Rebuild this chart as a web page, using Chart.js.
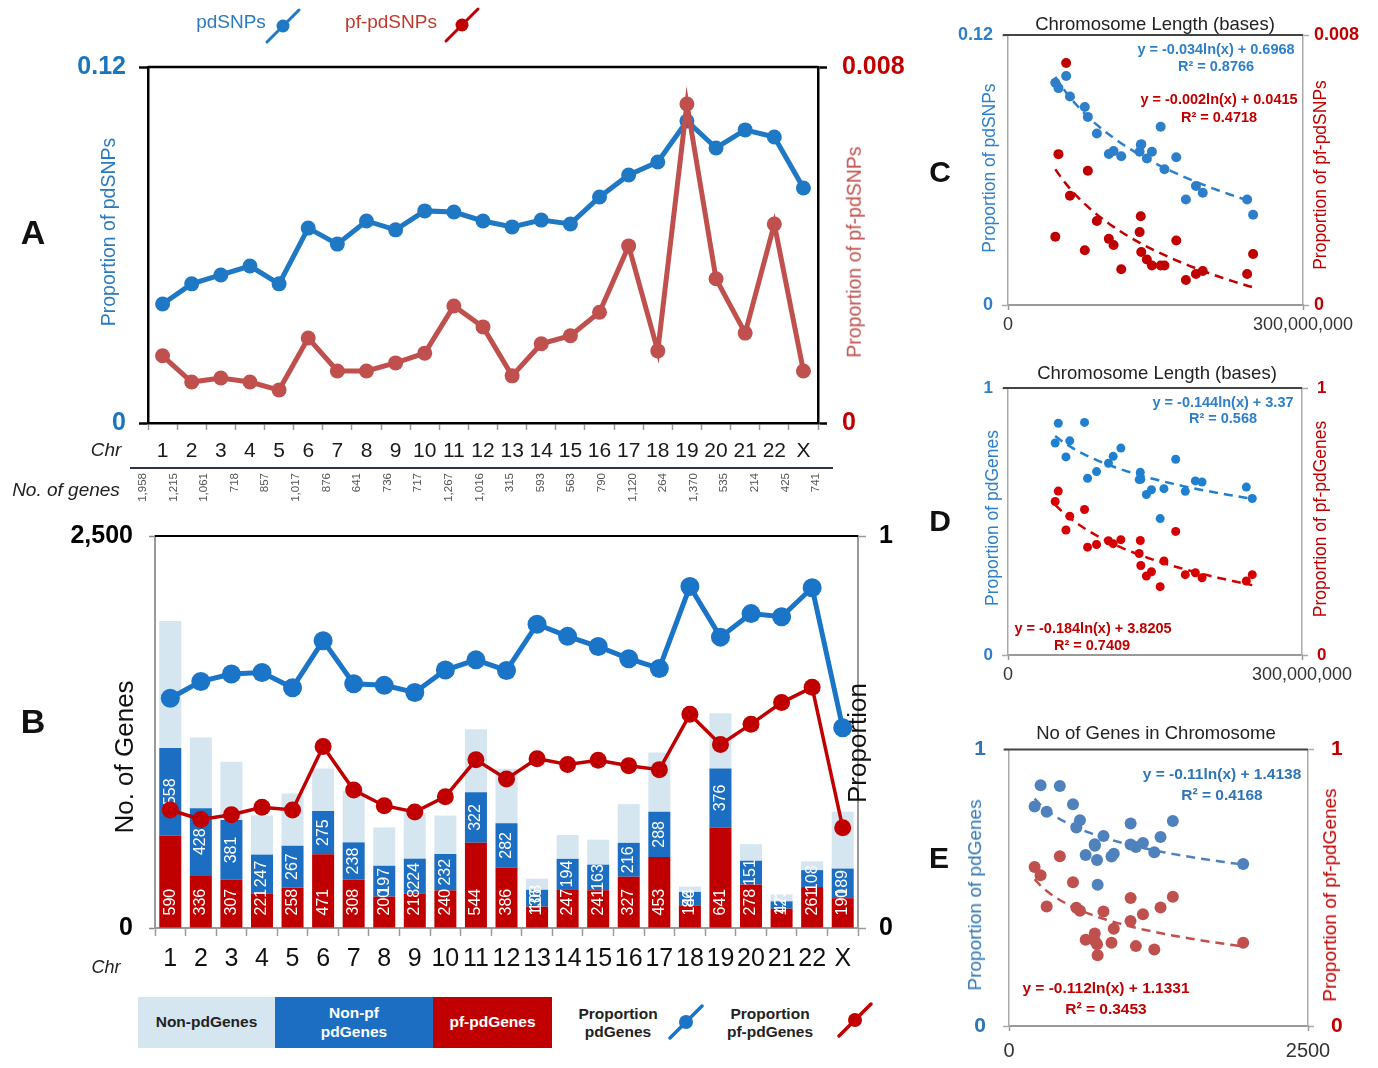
<!DOCTYPE html>
<html>
<head>
<meta charset="utf-8">
<title>pdSNPs and pdGenes across human chromosomes</title>
<script src="https://cdn.jsdelivr.net/npm/chart.js@4.4.1/dist/chart.umd.min.js"></script>
<style>
html, body { margin: 0; padding: 0; background: #fff; }
#fig { position: relative; width: 1378px; height: 1068px; overflow: hidden;
       font-family: "Liberation Sans", Arial, Helvetica, sans-serif; }
#fig canvas { position: absolute; }
.t { position: absolute; white-space: nowrap; transform: translate(-50%, -50%);
     line-height: 1.15; text-align: center; }
.r { transform: translate(-50%, -50%) rotate(-90deg); }
.gc { position: absolute; writing-mode: vertical-rl; transform: rotate(180deg);
      font-size: 11.5px; color: #555; width: 14px; line-height: 14px; }
.sw { position: absolute; display: flex; align-items: center; justify-content: center;
      text-align: center; font-weight: bold; font-size: 15.5px; line-height: 1.2; }
svg.ic { position: absolute; overflow: visible; }
</style>
</head>
<body>
<div id="fig">
  <canvas id="cA" width="920" height="520" style="left:0;top:0;width:920px;height:520px"></canvas>
  <canvas id="cB" width="900" height="485" style="left:0;top:505px;width:900px;height:485px"></canvas>
  <canvas id="cC" width="420" height="340" style="left:950px;top:0;width:420px;height:340px"></canvas>
  <canvas id="cD" width="420" height="330" style="left:950px;top:360px;width:420px;height:330px"></canvas>
  <canvas id="cE" width="420" height="348" style="left:950px;top:720px;width:420px;height:348px"></canvas>
</div>
<script>
// ---- data per chromosome ----
const chromosomes = ['1','2','3','4','5','6','7','8','9','10','11','12','13','14','15','16','17','18','19','20','21','22','X'];
const geneCounts   = [1958,1215,1061,718,857,1017,876,641,736,717,1267,1016,315,593,563,790,1120,264,1370,535,214,425,741];
const pfPdGenes    = [590,336,307,221,258,471,308,200,218,240,544,386,136,247,241,327,453,144,641,278,123,261,190];
const nonPfPdGenes = [558,428,381,247,267,275,238,197,224,232,322,282,108,194,163,216,288,86,376,151,47,108,189];
const nonPdGenes   = [810,451,373,250,332,271,330,244,294,245,401,348,71,152,159,247,379,34,353,106,44,56,362];
const pdGeneProp   = [0.586,0.629,0.648,0.652,0.613,0.733,0.623,0.619,0.601,0.658,0.684,0.657,0.775,0.744,0.718,0.687,0.662,0.871,0.742,0.802,0.794,0.868,0.511];
const pfPdGeneProp = [0.301,0.277,0.289,0.308,0.301,0.463,0.352,0.312,0.296,0.335,0.429,0.380,0.432,0.417,0.428,0.414,0.404,0.545,0.468,0.520,0.575,0.614,0.256];
const pdSnpProp    = [0.0401,0.0469,0.0499,0.0529,0.0469,0.0657,0.0603,0.0681,0.0651,0.0715,0.0711,0.0681,0.0661,0.0684,0.0671,0.0762,0.0836,0.0880,0.1018,0.0927,0.0988,0.0964,0.0792];
const pfPdSnpProp  = [0.00151,0.00092,0.00101,0.00092,0.00074,0.00191,0.00117,0.00117,0.00135,0.00157,0.00263,0.00216,0.00106,0.00178,0.00196,0.00249,0.00398,0.00162,0.00717,0.00324,0.00202,0.00447,0.00117];
const chrLengths   = [249250621,243199373,198022430,191154276,180915260,171115067,159138663,146364022,141213431,135534747,135006516,133851895,115169878,107349540,102531392,90354753,81195210,78077248,59128983,63025520,48129895,51304566,155270560];

// printed trendline equations
const eqC = ['y = -0.034ln(x) + 0.6968', 'R² = 0.8766', 'y = -0.002ln(x) + 0.0415', 'R² = 0.4718'];
const eqD = ['y = -0.144ln(x) + 3.37', 'R² = 0.568', 'y = -0.184ln(x) + 3.8205', 'R² = 0.7409'];
const eqE = ['y = -0.11ln(x) + 1.4138', 'R² = 0.4168', 'y = -0.112ln(x) + 1.1331', 'R² = 0.3453'];

const FONT = '"Liberation Sans", Arial, Helvetica, sans-serif';
Chart.defaults.font.family = FONT;

const fig = document.getElementById('fig');

// only the two end values are labelled on every axis
const endTicks = s => { s.ticks = [{ value: s.min }, { value: s.max }]; };

// dark rule along the top of the plot area
const topRule = {
  id: 'topRule',
  afterDraw(chart, args, o) {
    const { ctx, chartArea: a } = chart;
    ctx.save();
    ctx.strokeStyle = o.color; ctx.lineWidth = o.width;
    ctx.beginPath();
    ctx.moveTo(a.left - (o.extend || 0), a.top);
    ctx.lineTo(a.right + (o.extendR || 0), a.top);
    ctx.stroke();
    ctx.restore();
  }
};

// ---------- A: proportion of pdSNPs / pf-pdSNPs ----------
new Chart(document.getElementById('cA'), {
  type: 'line',
  data: {
    labels: chromosomes,
    datasets: [
      { label: 'pf-pdSNPs', data: pfPdSnpProp, yAxisID: 'yR', borderColor: '#c0504d', backgroundColor: '#c0504d',
        borderWidth: 5, pointRadius: 7.5, pointBorderWidth: 0, tension: 0 },
      { label: 'pdSNPs', data: pdSnpProp, yAxisID: 'yL', borderColor: '#1f78c4', backgroundColor: '#1f78c4',
        borderWidth: 5, pointRadius: 7.5, pointBorderWidth: 0, tension: 0 }
    ]
  },
  options: {
    responsive: false, animation: false, events: [],
    layout: { padding: { top: 67 } },
    plugins: { legend: { display: false }, tooltip: { enabled: false }, topRule: { color: '#000', width: 2.5 } },
    scales: {
      x: {
        offset: true,
        grid: { offset: true, drawOnChartArea: false, tickLength: 7, tickColor: '#999', tickWidth: 1.5 },
        border: { color: '#000', width: 2.5 },
        ticks: { color: '#1a1a1a', font: { size: 21 }, padding: 9, autoSkip: false, maxRotation: 0 },
        afterFit(s) { s.height = 97; }
      },
      yL: {
        position: 'left', min: 0, max: 0.12, afterBuildTicks: endTicks,
        grid: { drawOnChartArea: false, tickLength: 9, tickColor: '#000', tickWidth: 2.5 },
        border: { color: '#000', width: 2.5 },
        ticks: { color: '#1b75bc', font: { size: 25, weight: 'bold' }, padding: 13, callback: v => String(v) },
        afterFit(s) { s.width = 148; }
      },
      yR: {
        position: 'right', min: 0, max: 0.008, afterBuildTicks: endTicks,
        grid: { drawOnChartArea: false, tickLength: 9, tickColor: '#000', tickWidth: 2.5 },
        border: { color: '#000', width: 2.5 },
        ticks: { color: '#c00000', font: { size: 25, weight: 'bold' }, padding: 15, callback: v => String(v) },
        afterFit(s) { s.width = 102; }
      }
    }
  },
  plugins: [topRule]
});

// ---------- B: gene counts and pdGene proportions ----------
const RED_BAR = 2, BLUE_BAR = 3;
const barLabels = {
  id: 'barLabels',
  afterDatasetDraw(chart, args) {
    if (args.index !== RED_BAR) return;   // red bars are the last bars painted
    const ctx = chart.ctx;
    const red = chart.getDatasetMeta(RED_BAR).data;
    const blue = chart.getDatasetMeta(BLUE_BAR).data;
    ctx.save();
    ctx.fillStyle = '#fff';
    ctx.font = '16px ' + FONT;
    ctx.textBaseline = 'middle';
    blue.forEach((el, i) => {
      ctx.save();
      ctx.translate(el.x, (el.y + el.base) / 2);
      ctx.rotate(-Math.PI / 2);
      ctx.textAlign = 'center';
      ctx.fillText(String(nonPfPdGenes[i]), 0, 0);
      ctx.restore();
    });
    red.forEach((el, i) => {
      ctx.save();
      ctx.translate(el.x, el.base - 12);
      ctx.rotate(-Math.PI / 2);
      ctx.textAlign = 'left';
      ctx.fillText(String(pfPdGenes[i]), 0, 0);
      ctx.restore();
    });
    ctx.restore();
  }
};

const barCommon = { yAxisID: 'yN', stack: 'genes', order: 2, categoryPercentage: 1, barPercentage: 0.72, borderWidth: 0 };
new Chart(document.getElementById('cB'), {
  type: 'bar',
  data: {
    labels: chromosomes,
    datasets: [
      { type: 'line', label: 'Proportion pf-pdGenes', data: pfPdGeneProp, yAxisID: 'yP', order: 0,
        borderColor: '#c00000', backgroundColor: '#c00000', borderWidth: 3.5, pointRadius: 8.5, pointBorderWidth: 0, tension: 0 },
      { type: 'line', label: 'Proportion pdGenes', data: pdGeneProp, yAxisID: 'yP', order: 1,
        borderColor: '#1a74c8', backgroundColor: '#1a74c8', borderWidth: 5, pointRadius: 9.5, pointBorderWidth: 0, tension: 0 },
      Object.assign({ label: 'pf-pdGenes', data: pfPdGenes, backgroundColor: '#c00000' }, barCommon),
      Object.assign({ label: 'Non-pf pdGenes', data: nonPfPdGenes, backgroundColor: '#1b6ec2' }, barCommon),
      Object.assign({ label: 'Non-pdGenes', data: nonPdGenes, backgroundColor: '#d5e6f1' }, barCommon)
    ]
  },
  options: {
    responsive: false, animation: false, events: [],
    layout: { padding: { top: 30 } },
    plugins: { legend: { display: false }, tooltip: { enabled: false }, topRule: { color: '#000', width: 2 } },
    scales: {
      x: {
        stacked: true, offset: true,
        grid: { offset: true, drawOnChartArea: false, tickLength: 8, tickColor: '#999', tickWidth: 1.5 },
        border: { color: '#999', width: 2 },
        ticks: { color: '#111', font: { size: 25 }, padding: 8, autoSkip: false, maxRotation: 0 },
        afterFit(s) { s.height = 62; }
      },
      yN: {
        position: 'left', stacked: true, min: 0, max: 2500, afterBuildTicks: endTicks,
        grid: { drawOnChartArea: false, tickLength: 6, tickColor: '#888', tickWidth: 1.5 },
        border: { color: '#999', width: 2 },
        ticks: { color: '#000', font: { size: 25, weight: 'bold' }, padding: 16, callback: v => v.toLocaleString('en-US') },
        afterFit(s) { s.width = 155; }
      },
      yP: {
        position: 'right', min: 0, max: 1, afterBuildTicks: endTicks,
        grid: { drawOnChartArea: false, tickLength: 8, tickColor: '#999', tickWidth: 1.5 },
        border: { color: '#999', width: 2 },
        ticks: { color: '#000', font: { size: 25, weight: 'bold' }, padding: 13, callback: v => String(v) },
        afterFit(s) { s.width = 42; }
      }
    }
  },
  plugins: [topRule, barLabels]
});

// ---------- C, D, E: scatter with logarithmic trendlines ----------
function logFit(xs, ys) {
  let n = xs.length, sx = 0, sy = 0, sxx = 0, sxy = 0;
  for (let i = 0; i < n; i++) {
    const lx = Math.log(xs[i]);
    sx += lx; sy += ys[i]; sxx += lx * lx; sxy += lx * ys[i];
  }
  const a = (n * sxy - sx * sy) / (n * sxx - sx * sx);
  return { a, b: (sy - a * sx) / n };
}
function trendPoints(xs, fit) {
  const lo = Math.min(...xs), hi = Math.max(...xs), pts = [];
  for (let k = 0; k <= 40; k++) {
    const x = lo + (hi - lo) * k / 40;
    pts.push({ x, y: fit.a * Math.log(x) + fit.b });
  }
  return pts;
}

function scatterPanel(id, o) {
  const pts = ys => o.xs.map((x, i) => ({ x, y: ys[i] }));
  const yAxis = (pos, max, color, pad, width) => ({
    position: pos, min: 0, max, afterBuildTicks: endTicks,
    grid: { drawOnChartArea: false, tickLength: 6, tickColor: '#aaa', tickWidth: 1.5 },
    border: { color: '#aaa', width: 1.5 },
    ticks: { color, font: { size: o.yFont, weight: 'bold' }, padding: pad, callback: v => String(v) },
    afterFit(s) { s.width = width; }
  });
  return new Chart(document.getElementById(id), {
    type: 'scatter',
    data: {
      datasets: [
        { label: 'trend pf', data: trendPoints(o.xs, logFit(o.xs, o.yR)), yAxisID: 'yR', showLine: true, pointRadius: 0,
          borderColor: o.red, borderWidth: 2.5, borderDash: [9, 6] },
        { label: 'trend pd', data: trendPoints(o.xs, logFit(o.xs, o.yB)), yAxisID: 'yL', showLine: true, pointRadius: 0,
          borderColor: o.blue, borderWidth: 2.5, borderDash: [9, 6] },
        { label: o.nameR, data: pts(o.yR), yAxisID: 'yR', backgroundColor: o.red, borderWidth: 0, pointRadius: o.r },
        { label: o.nameB, data: pts(o.yB), yAxisID: 'yL', backgroundColor: o.blue, borderWidth: 0, pointRadius: o.r }
      ]
    },
    options: {
      responsive: false, animation: false, events: [],
      layout: { padding: { top: o.padTop } },
      plugins: { legend: { display: false }, tooltip: { enabled: false }, topRule: { color: '#444', width: 2, extend: 5 } },
      scales: {
        x: {
          type: 'linear', min: 0, max: o.xMax, afterBuildTicks: endTicks,
          grid: { drawOnChartArea: false, tickLength: 5, tickColor: '#999', tickWidth: 1.5 },
          border: { color: '#999', width: 2 },
          ticks: { color: '#333', font: { size: o.xFont }, padding: o.xPad, autoSkip: false, maxRotation: 0, callback: o.xFmt },
          afterFit(s) { s.height = o.xH; }
        },
        yL: yAxis('left', o.yMaxL, o.blueText, o.padL, o.wL),
        yR: yAxis('right', o.yMaxR, o.redText, o.padR, o.wR)
      }
    },
    plugins: [topRule]
  });
}

scatterPanel('cC', {
  xs: chrLengths, yB: pdSnpProp, yR: pfPdSnpProp, nameB: 'pdSNPs', nameR: 'pf-pdSNPs',
  xMax: 300000000, xFmt: v => v.toLocaleString('en-US'), xFont: 18, xPad: 4, xH: 35,
  yMaxL: 0.12, yMaxR: 0.008, yFont: 18, padL: 9, padR: 5, wL: 58, wR: 67, padTop: 35,
  blue: '#2e7fca', red: '#c00000', blueText: '#2e7fca', redText: '#c00000', r: 5
});
scatterPanel('cD', {
  xs: chrLengths, yB: pdGeneProp, yR: pfPdGeneProp, nameB: 'pdGenes', nameR: 'pf-pdGenes',
  xMax: 300000000, xFmt: v => v.toLocaleString('en-US'), xFont: 18, xPad: 4, xH: 35,
  yMaxL: 1, yMaxR: 1, yFont: 17, padL: 9, padR: 9, wL: 58, wR: 68, padTop: 28,
  blue: '#1f80d0', red: '#d60000', blueText: '#2e7fca', redText: '#c00000', r: 4.5
});
scatterPanel('cE', {
  xs: geneCounts, yB: pdGeneProp, yR: pfPdGeneProp, nameB: 'pdGenes', nameR: 'pf-pdGenes',
  xMax: 2500, xFmt: v => String(v), xFont: 20, xPad: 8, xH: 42,
  yMaxL: 1, yMaxR: 1, yFont: 21, padL: 17, padR: 17, wL: 59, wR: 62, padTop: 28,
  blue: '#4f81bd', red: '#c0504d', blueText: '#2e75b6', redText: '#c00000', r: 6
});

// ---------- text, legends and labels ----------
function text(str, x, y, style, rotated) {
  const d = document.createElement('div');
  d.className = 't' + (rotated ? ' r' : '');
  d.innerHTML = str;
  d.style.left = x + 'px';
  d.style.top = y + 'px';
  Object.assign(d.style, style || {});
  fig.appendChild(d);
  return d;
}
function icon(x, y, color, lw, rad) {
  const ns = 'http://www.w3.org/2000/svg';
  const s = document.createElementNS(ns, 'svg');
  s.setAttribute('class', 'ic');
  s.setAttribute('width', 40); s.setAttribute('height', 40);
  s.style.left = (x - 20) + 'px'; s.style.top = (y - 20) + 'px';
  s.innerHTML = '<line x1="4" y1="36" x2="36" y2="4" stroke="' + color + '" stroke-width="' + lw + '" stroke-linecap="round"/>' +
                '<circle cx="20" cy="20" r="' + rad + '" fill="' + color + '"/>';
  fig.appendChild(s);
}

// panel letters
const letter = { fontSize: '34px', fontWeight: 'bold', color: '#111' };
text('A', 33, 233, letter);
text('B', 33, 722, letter);
text('C', 940, 172, Object.assign({}, letter, { fontSize: '30px' }));
text('D', 940, 521, Object.assign({}, letter, { fontSize: '30px' }));
text('E', 939, 858, Object.assign({}, letter, { fontSize: '30px' }));

// A legend
text('pdSNPs', 231, 22, { fontSize: '19px', color: '#2a7bbf' });
icon(283, 26, '#1f78c4', 3, 6.5);
text('pf-pdSNPs', 391, 22, { fontSize: '19px', color: '#c0392b' });
icon(462, 25, '#c00000', 3, 6.5);

// A axis titles
text('Proportion of pdSNPs', 108, 232, { fontSize: '19.5px', color: '#2a7bbf' }, true);
text('Proportion of pf-pdSNPs', 854, 252, { fontSize: '19.5px', color: '#c0504d' }, true);

// chromosome / gene count table under A
text('Chr', 106, 450, { fontSize: '19px', fontStyle: 'italic', color: '#222' });
text('No. of genes', 66, 490, { fontSize: '19px', fontStyle: 'italic', color: '#222' });
const rule = document.createElement('div');
Object.assign(rule.style, { position: 'absolute', left: '130px', top: '467px', width: '703px', height: '1.5px', background: '#2b3350' });
fig.appendChild(rule);
geneCounts.forEach((g, i) => {
  const d = document.createElement('div');
  d.className = 'gc';
  d.textContent = g.toLocaleString('en-US');
  d.style.left = (142 + i * 30.6 - 7) + 'px';
  d.style.top = '473px';
  fig.appendChild(d);
});

// B axis titles
text('No. of Genes', 125, 757, { fontSize: '26px', color: '#111' }, true);
text('Proportion', 858, 743, { fontSize: '26px', color: '#111' }, true);
text('Chr', 106, 967, { fontSize: '18px', fontStyle: 'italic', color: '#222' });

// B legend
function swatch(label, left, width, bg, color) {
  const d = document.createElement('div');
  d.className = 'sw';
  d.innerHTML = label;
  Object.assign(d.style, { left: left + 'px', top: '997px', width: width + 'px', height: '51px', background: bg, color });
  fig.appendChild(d);
}
swatch('Non-pdGenes', 138, 137, '#d5e6f1', '#222');
swatch('Non-pf<br>pdGenes', 275, 158, '#1b6ec2', '#fff');
swatch('pf-pdGenes', 433, 119, '#c00000', '#fff');
text('Proportion<br>pdGenes', 618, 1023, { fontSize: '15.5px', fontWeight: 'bold', color: '#222' });
icon(686, 1022, '#1a74c8', 3.5, 7);
text('Proportion<br>pf-pdGenes', 770, 1023, { fontSize: '15.5px', fontWeight: 'bold', color: '#222' });
icon(855, 1020, '#c00000', 3.5, 7);

// C labels
text('Chromosome Length (bases)', 1155, 24, { fontSize: '18.5px', color: '#222' });
text('Proportion of pdSNPs', 989, 168, { fontSize: '17.5px', color: '#2e7fca' }, true);
text('Proportion of pf-pdSNPs', 1320, 175, { fontSize: '17.5px', color: '#c00000' }, true);
const eqStyle = (size, color) => ({ fontSize: size, fontWeight: 'bold', color });
text(eqC[0], 1216, 49, eqStyle('14.5px', '#2e7fca'));
text(eqC[1], 1216, 66, eqStyle('14.5px', '#2e7fca'));
text(eqC[2], 1219, 99, eqStyle('14.5px', '#c00000'));
text(eqC[3], 1219, 117, eqStyle('14.5px', '#c00000'));

// D labels
text('Chromosome Length (bases)', 1157, 373, { fontSize: '18.5px', color: '#222' });
text('Proportion of pdGenes', 992, 518, { fontSize: '17.5px', color: '#2e7fca' }, true);
text('Proportion of pf-pdGenes', 1320, 519, { fontSize: '17.5px', color: '#c00000' }, true);
text(eqD[0], 1223, 402, eqStyle('14.5px', '#2e7fca'));
text(eqD[1], 1223, 418, eqStyle('14.5px', '#2e7fca'));
text(eqD[2], 1093, 628, eqStyle('14.5px', '#c00000'));
text(eqD[3], 1092, 645, eqStyle('14.5px', '#c00000'));

// E labels
text('No of Genes in Chromosome', 1156, 733, { fontSize: '18.5px', color: '#222' });
text('Proportion of pdGenes', 975, 895, { fontSize: '19px', color: '#2e75b6' }, true);
text('Proportion of pf-pdGenes', 1330, 895, { fontSize: '19px', color: '#c00000' }, true);
text(eqE[0], 1222, 774, eqStyle('15.5px', '#2e75b6'));
text(eqE[1], 1222, 795, eqStyle('15.5px', '#2e75b6'));
text(eqE[2], 1106, 988, eqStyle('15.5px', '#c00000'));
text(eqE[3], 1106, 1009, eqStyle('15.5px', '#c00000'));
</script>
</body>
</html>
